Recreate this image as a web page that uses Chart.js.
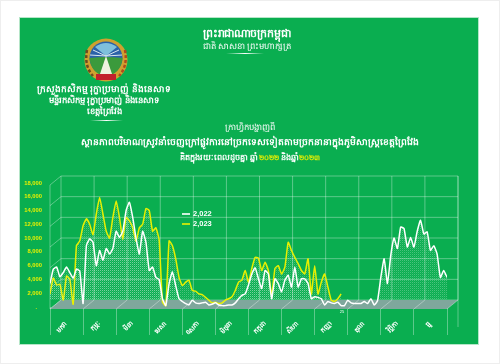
<!DOCTYPE html>
<html><head><meta charset="utf-8">
<style>
html,body{margin:0;padding:0;background:#fff;width:500px;height:364px;overflow:hidden;font-family:"Noto Sans",sans-serif}
#frame{position:absolute;left:0;top:0;width:498px;height:362px;border:1px solid #eeeeee}
#panel{position:absolute;left:20px;top:18px;width:458px;height:326px;background:#0aae50;box-shadow:0 0 0 1px #b5e6c8}
#wrap{position:absolute;left:0;top:0;width:500px;height:364px}
.t{position:absolute;transform:translate(-50%,-50%);white-space:nowrap;color:#fff;font-weight:700;line-height:1}
.t b{color:#e8f000;font-size:.85em}
.o{position:absolute;height:1px;background:linear-gradient(90deg,transparent,#fff,transparent)}
#logo{position:absolute;left:84px;top:38px}
</style>
<script src="https://cdn.jsdelivr.net/npm/chart.js@4"></script>
</head><body>
<div id="frame"></div>
<div id="panel"></div>
<div id="wrap"><canvas id="c" width="500" height="364"></canvas></div>
<svg id="logo" width="44" height="44" viewBox="0 0 44 44">
<circle cx="22" cy="22" r="21.5" fill="#cfa12f"/>
<circle cx="22" cy="20" r="16.5" fill="#2b62a8"/>
<path d="M5.5 20 Q22 18 38.5 20 Q37 36 22 38 Q7 36 5.5 20Z" fill="#3b9a3c"/>
<path d="M22 18 L28 36 L16 36Z" fill="#eef2e0"/>
<path d="M11 9 Q22 1 33 9 L22 18Z" fill="#7fc0dc"/>
<path d="M9 12 L22 18 M35 12 L22 18 M6 17 L22 18 M38 17 L22 18" stroke="#d9e8ee" stroke-width="1"/>
<rect x="12" y="36" width="20" height="6" fill="#c2202c"/>
<path d="M3 12 Q0 28 9 38" stroke="#6e4a20" stroke-width="2.5" fill="none" stroke-dasharray="3 2"/>
<path d="M41 12 Q44 28 35 38" stroke="#b04a1c" stroke-width="2.5" fill="none" stroke-dasharray="3 2"/>
</svg>
<div class="t" style="left:247px;top:32px;font-size:11px">ព្រះរាជាណាចក្រកម្ពុជា</div>
<div class="t" style="left:247px;top:46px;font-size:8.5px;font-weight:400">ជាតិ សាសនា ព្រះមហាក្សត្រ</div>
<div class="o" style="left:226px;top:53px;width:38px"></div>
<div class="t" style="left:104px;top:88px;font-size:9px">ក្រសួងកសិកម្ម រុក្ខាប្រមាញ់ និងនេសាទ</div>
<div class="t" style="left:104px;top:100px;font-size:8.5px">មន្ទីរកសិកម្ម រុក្ខាប្រមាញ់ និងនេសាទ</div>
<div class="t" style="left:104px;top:111px;font-size:8.5px">ខេត្តព្រៃវែង</div>
<div class="o" style="left:90px;top:120px;width:33px"></div>
<div class="t" style="left:250px;top:127px;font-size:8.5px;font-weight:400">ក្រាហ្វិកបង្ហាញពី</div>
<div class="t" style="left:250px;top:142px;font-size:9.2px">ស្ថានភាពបរិមាណស្រូវនាំចេញក្រៅផ្លូវការនៅច្រកទេសទៀតតាមច្រកនានាក្នុងភូមិសាស្ត្រខេត្តព្រៃវែង</div>
<div class="t" style="left:250px;top:157px;font-size:8.2px">គិតក្នុងរយៈពេលដូចគ្នា ឆ្នាំ<b>២០២២</b> និងឆ្នាំ<b>២០២៣</b></div>
<script>
const months=["មករា","កុម្ភៈ","មីនា","មេសា","ឧសភា","មិថុនា","កក្កដា","សីហា","កញ្ញា","តុលា","វិច្ឆិកា","ធ្នូ"];
const seriesNames=["2,022","2,023"];
const values2022=[3400,5500,5800,4400,5000,5800,5000,4200,5500,5200,500,8900,9900,9400,6000,8200,6800,8500,7700,8500,11000,10100,11000,14000,15200,13000,10000,7700,11000,9400,5300,5800,4300,4000,1200,200,3400,5100,3100,1200,800,500,300,1000,600,500,600,700,300,400,600,300,200,200,300,300,600,1200,1700,1900,3200,4800,5700,4100,2700,5300,4800,1200,4100,3400,2200,3900,4600,2900,5800,2900,4100,4100,3400,1200,1500,1400,1200,300,800,600,500,700,200,200,1000,600,500,500,500,800,500,1200,300,900,4300,7000,3400,7500,10000,8500,11600,11400,8700,10100,8700,11000,12600,10600,10900,8200,8900,7700,4300,5300,4300];
const values2023=[1900,4200,3200,3300,1000,4500,4000,400,8900,9600,11800,12800,12000,10500,13500,15900,13500,11000,10000,13000,15400,13000,9800,13000,12500,11500,9500,11500,12000,14300,14000,11000,11500,9700,700,200,9600,8900,7000,4300,3100,3600,3900,2400,2300,1900,1800,1400,1000,600,700,500,600,1000,1200,1500,2400,3600,3900,5300,3600,5600,7200,7100,5300,6500,5300,1700,5600,6000,4800,5800,9400,8200,7200,6300,5300,4800,7000,1900,6000,1900,3600,4800,2900,1000,800,1200,1900];
const wallTicks=[0,3000,6000,9000,12000,15000,18000];
const smallNote="25";

const STEP=months.length/(values2022.length-1);
const toXY=a=>a.map((y,i)=>({x:i*STEP,y}));
function stipple(){
  const p=document.createElement('canvas');p.width=2;p.height=2;
  const g=p.getContext('2d');
  g.fillStyle='rgba(255,255,255,.26)';g.fillRect(0,0,1,1);
  g.fillStyle='rgba(255,255,255,.08)';g.fillRect(1,1,1,1);
  return g.createPattern(p,'repeat');
}
const DX=11,DY=-7,GRID='rgba(255,255,255,.34)';
const wall={id:'wall',beforeDatasetsDraw(ch){
  const {ctx,scales:{x,y}}=ch;ctx.save();
  const x0=x.left,x1=x.right,yb=y.getPixelForValue(0);
  ctx.strokeStyle=GRID;ctx.lineWidth=1;
  const L=(a,b,c,d)=>{ctx.beginPath();ctx.moveTo(a,b);ctx.lineTo(c,d);ctx.stroke();};
  wallTicks.forEach(v=>{const p=y.getPixelForValue(v);
    L(x0+DX,p+DY,x1+DX,p+DY);L(x0,p+2,x0+DX,p+DY);});
  L(x0,y.getPixelForValue(18000)+2,x0,yb+2);
  months.concat('').forEach((m,i)=>{const p=x.getPixelForValue(i);
    L(p+DX,y.getPixelForValue(18000)+DY,p+DX,yb+DY);});
  L(x1+DX,y.getPixelForValue(18000)+DY,x1+DX,yb+20);
  ctx.fillStyle='#7fa79c';ctx.beginPath();
  ctx.moveTo(x0,yb+2);ctx.lineTo(x1,yb+2);ctx.lineTo(x1+DX,yb+DY);ctx.lineTo(x0+DX,yb+DY);ctx.closePath();ctx.fill();
  months.concat('').forEach((m,i)=>{const p=x.getPixelForValue(i);L(p,yb+2,p+DX,yb+DY);});
  ctx.restore();
},afterDraw(ch){
  const {ctx}=ch;ctx.save();
  [['#ffffff',214,0],['#e8f000',224,1]].forEach(([c,py,i])=>{
    ctx.strokeStyle=c;ctx.lineWidth=1.6;ctx.beginPath();ctx.moveTo(182,py);ctx.lineTo(190,py);ctx.stroke();
    ctx.fillStyle='#fff';ctx.font='700 7.5px "Liberation Sans"';ctx.textBaseline='middle';ctx.fillText(seriesNames[i],193,py);
  });
  ctx.fillStyle='#fff';ctx.font='4px "Liberation Sans"';ctx.textAlign='center';ctx.fillText(smallNote,342,312);
  ctx.restore();
}};
new Chart(document.getElementById('c'),{
 type:'line',
 data:{datasets:[
  {label:seriesNames[0],data:toXY(values2022),borderColor:'#fff',borderWidth:1.5,pointRadius:0,tension:.15,order:1,
   fill:{target:{value:1000},above:stipple(),below:'transparent'}},
  {label:seriesNames[1],data:toXY(values2023),borderColor:'#e8f000',borderWidth:1.5,pointRadius:0,tension:.15,order:2,
   fill:{target:{value:1000},above:stipple(),below:'transparent'}}
 ]},
 plugins:[wall],
 options:{responsive:false,animation:false,
  layout:{padding:{left:18,top:183,right:53,bottom:10}},
  plugins:{legend:{display:false},tooltip:{enabled:false}},
  scales:{
   x:{type:'linear',min:0,max:12,afterFit:s=>{s.height=47;},
    grid:{drawOnChartArea:false,drawTicks:true,tickLength:28,color:GRID},border:{display:false},
    ticks:{stepSize:1,autoSkip:false,maxRotation:45,minRotation:45,padding:-15,labelOffset:16,color:'#fff',
     font:{family:'"Noto Sans"',size:6.5,weight:'700'},callback:v=>months[v]||''}},
   y:{min:0,max:18000,afterFit:s=>{s.width=32;},
    grid:{display:false,drawTicks:false},border:{display:false},
    ticks:{stepSize:2000,autoSkip:false,padding:8,color:'#e8f000',font:{family:'"Liberation Sans"',size:5.8,weight:'700'},
     callback:v=>v===0?'.   ':v.toLocaleString('en-US')}}
  }
 }
});
</script>
</body></html>
